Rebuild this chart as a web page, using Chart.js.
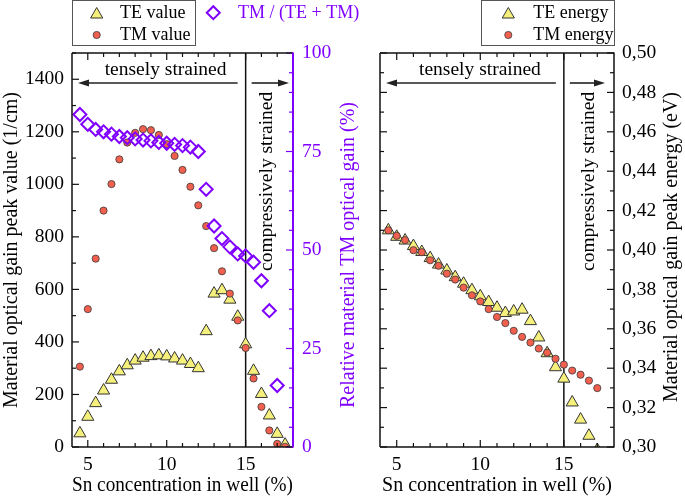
<!DOCTYPE html>
<html><head><meta charset="utf-8">
<script src="https://cdn.jsdelivr.net/npm/chart.js@4/dist/chart.umd.min.js"></script>
<style>
html,body{margin:0;padding:0;background:#fff;width:685px;height:497px;overflow:hidden}
#c1{position:absolute;left:0;top:0}
#c2{position:absolute;left:370px;top:0}
</style></head><body>
<canvas id="c1" width="370" height="497"></canvas>
<canvas id="c2" width="315" height="497"></canvas>
<script>
// ---------- data ----------
const snConc = [4.5,5,5.5,6,6.5,7,7.5,8,8.5,9,9.5,10,10.5,11,11.5,12,12.5,13,13.5,14,14.5,15,15.5,16,16.5,17,17.5];
const teValue = [52,115,167,215,256,288,311,329,340,346,349,345,337,329,316,300,441,584,597,561,496,391,290,202,120,50,9];
const tmValue = [306,525,717,900,1001,1095,1159,1196,1210,1206,1188,1153,1108,1055,991,920,841,757,669,584,482,377,261,153,63,12,1];
const tmRatio = [84.4,81.9,80.6,80.0,79.4,78.8,78.5,78.2,77.9,77.7,77.3,77.1,76.8,76.5,76.1,75.0,65.4,56.1,52.9,50.8,49.0,48.5,46.9,42.2,34.6,15.6,null];
const teEnergy = [0.4100,0.4067,0.4048,0.4020,0.3990,0.3959,0.3926,0.3896,0.3862,0.3829,0.3796,0.3765,0.3736,0.3707,0.3680,0.3688,0.3697,0.3639,0.3556,0.3476,0.3405,0.3347,0.3226,0.3139,0.3057,0.2985,null];
const tmEnergy = [0.4100,0.4072,0.4050,0.3999,0.3989,0.3948,0.3920,0.3880,0.3850,0.3809,0.3770,0.3739,0.3700,0.3660,0.3629,0.3590,0.3559,0.3530,0.3500,0.3479,0.3448,0.3418,0.3388,0.3367,0.3337,0.3299,null];

const xTicks = [5,10,15];
const gainTicks = [0,200,400,600,800,1000,1200,1400];
const pctTicks = [0,25,50,75,100];
const energyTicks = [0.30,0.32,0.34,0.36,0.38,0.40,0.42,0.44,0.46,0.48,0.50];

const boundary = 15;

// ---------- styles ----------
const FAMILY = "'Liberation Serif', 'Times New Roman', serif";
const TICKFONT = {family:FAMILY, size:19.5};
const TITLEFONT = {family:FAMILY, size:20, lineHeight:1};
const ANNOT_SIZE = 19.5, LEGEND_SIZE = 18;
const PURPLE = '#8000ff';
const YELLOW = '#f5f07c';
const RED = '#f1604e';
const triStyle = {pointStyle:'triangle', pointRadius:7, pointBackgroundColor:YELLOW, pointBorderColor:'#333', pointBorderWidth:1};
const cirStyle = {pointStyle:'circle', pointRadius:3.6, pointBackgroundColor:RED, pointBorderColor:'#3a3a3a', pointBorderWidth:0.8};
const diaStyle = {pointStyle:'rectRot', pointRadius:6.5, pointBackgroundColor:'rgba(0,0,0,0)', pointBorderColor:PURPLE, pointBorderWidth:2};

function pts(xs, ys){ const r=[]; xs.forEach((x,i)=>{ if(ys[i]!==null && ys[i]!==undefined) r.push({x, y:ys[i]}); }); return r; }
function setTicks(arr){ return s => { s.ticks = arr.map(v=>({value:v})); }; }

function drawMarker(ctx, style, x, y){
  ctx.save();
  ctx.fillStyle = style.pointBackgroundColor;
  ctx.strokeStyle = style.pointBorderColor;
  ctx.lineWidth = style.pointBorderWidth;
  const r = style.pointRadius;
  ctx.beginPath();
  if (style.pointStyle==='triangle'){
    let rad=0;
    ctx.moveTo(x+Math.sin(rad)*r, y-Math.cos(rad)*r);
    rad+=2*Math.PI/3; ctx.lineTo(x+Math.sin(rad)*r, y-Math.cos(rad)*r);
    rad+=2*Math.PI/3; ctx.lineTo(x+Math.sin(rad)*r, y-Math.cos(rad)*r);
    ctx.closePath();
  } else if (style.pointStyle==='circle'){
    ctx.arc(x,y,r,0,Math.PI*2);
  } else {
    ctx.moveTo(x-r,y); ctx.lineTo(x,y-r); ctx.lineTo(x+r,y); ctx.lineTo(x,y+r); ctx.closePath();
  }
  ctx.fill(); ctx.stroke();
  ctx.restore();
}
function line(ctx,x1,y1,x2,y2){ ctx.beginPath(); ctx.moveTo(x1,y1); ctx.lineTo(x2,y2); ctx.stroke(); }
function arrow(ctx, xFrom, xTip, y){
  ctx.save(); ctx.strokeStyle='#222'; ctx.fillStyle='#222'; ctx.lineWidth=1.6;
  const dir = xTip > xFrom ? 1 : -1;
  line(ctx, xFrom, y, xTip - dir*8, y);
  ctx.beginPath(); ctx.moveTo(xTip, y); ctx.lineTo(xTip - dir*11, y-3.5); ctx.lineTo(xTip - dir*11, y+3.5); ctx.closePath(); ctx.fill();
  ctx.restore();
}

// ---------- plugins ----------
function boundaryPlugin(){
  return { id:'boundary', beforeDatasetsDraw(chart){
    const {ctx, chartArea:a, scales:{x}} = chart;
    ctx.save(); ctx.strokeStyle='#111'; ctx.lineWidth=1.5;
    const px = x.getPixelForValue(boundary);
    line(ctx, px, a.top, px, a.bottom);
    ctx.restore();
  }};
}
function framePlugin(opt){
  return { id:'frame', afterDatasetsDraw(chart){
    const {ctx, chartArea:a, scales} = chart;
    ctx.save();
    ctx.strokeStyle='#111';
    ctx.lineWidth = 1.2;
    for (let v=5; v<=17; v++){
      const px = scales.x.getPixelForValue(v); const L = v%5===0 ? 7 : 4;
      line(ctx, px, a.bottom, px, a.bottom-L);
      line(ctx, px, a.top, px, a.top+L);
    }
    const ys = scales[opt.yKey];
    for (let i=0;; i++){
      const v = ys.min + i*opt.yMinor; if (v > ys.max + 1e-9) break;
      const py = ys.getPixelForValue(v);
      const major = Math.abs(Math.round(v/opt.yMajor)*opt.yMajor - v) < 1e-9;
      const L = major ? 7 : 4;
      if (opt.yLeftTicks) line(ctx, a.left, py, a.left+L, py);
      if (opt.yRightTicks) line(ctx, a.right, py, a.right-L, py);
    }
    if (opt.pKey){
      const ps = scales[opt.pKey];
      ctx.strokeStyle = PURPLE;
      for (let v=0; v<=100; v+=5){
        const py = ps.getPixelForValue(v); const L = v%25===0 ? 7 : 4;
        line(ctx, a.right, py, a.right-L, py);
      }
    }
    ctx.lineWidth = 1.5; ctx.strokeStyle='#111';
    line(ctx, a.left, a.top, a.right, a.top);
    line(ctx, a.left, a.bottom, a.right, a.bottom);
    line(ctx, a.left, a.top, a.left, a.bottom);
    ctx.strokeStyle = opt.rightColor;
    ctx.lineWidth = opt.rightColor===PURPLE ? 2 : 1.5;
    line(ctx, a.right, a.top-0.5, a.right, a.bottom+0.5);
    ctx.restore();
  }};
}
function annotPlugin(opt){
  return { id:'annot', afterDraw(chart){
    const {ctx, chartArea:a, scales:{x}} = chart;
    ctx.save();
    ctx.font = ANNOT_SIZE+'px '+FAMILY; ctx.fillStyle='#000';
    ctx.textAlign='center'; ctx.textBaseline='middle';
    ctx.fillText('tensely strained', x.getPixelForValue(opt.textX), a.top+17);
    const bx = x.getPixelForValue(boundary);
    arrow(ctx, bx-8, a.left+6, a.top+30);
    arrow(ctx, bx+6, a.right-opt.rightGap, a.top+30);
    ctx.save();
    ctx.translate((bx + a.right)/2 + opt.compDx, a.top+218);
    ctx.rotate(-Math.PI/2);
    ctx.textAlign='left';
    ctx.fillText('compressively strained', 0, 0);
    ctx.restore();
    // right-side title
    ctx.save();
    ctx.font = TITLEFONT.size+'px '+FAMILY;
    ctx.fillStyle = opt.titleColor;
    ctx.translate(opt.titleX, (a.top+a.bottom)/2 + opt.titleDy);
    ctx.rotate(-Math.PI/2);
    ctx.textAlign='center';
    ctx.fillText(opt.title, 0, 0);
    ctx.restore();
    // legend
    const L = opt.legend;
    ctx.font = LEGEND_SIZE+'px '+FAMILY;
    ctx.strokeStyle='#555'; ctx.lineWidth=1;
    ctx.strokeRect(L.box[0]+0.5, L.box[1]+0.5, L.box[2], L.box[3]);
    ctx.textAlign='left';
    L.items.forEach(it=>{
      drawMarker(ctx, it.style, it.mx, it.my);
      ctx.fillStyle = it.color || '#000';
      ctx.fillText(it.text, it.tx, it.ty);
    });
    ctx.restore();
  }};
}

// ---------- left chart ----------
new Chart(document.getElementById('c1'), {
  type:'scatter',
  data:{ datasets:[
    Object.assign({label:'TM / (TE + TM)', data:pts(snConc, tmRatio), yAxisID:'y1', order:0, clip:0}, diaStyle),
    Object.assign({label:'TM value', data:pts(snConc, tmValue), yAxisID:'y', order:1, clip:0}, cirStyle),
    Object.assign({label:'TE value', data:pts(snConc, teValue), yAxisID:'y', order:2, clip:0}, triStyle)
  ]},
  options:{
    responsive:false, animation:false, devicePixelRatio:1, events:[],
    layout:{padding:{top:53, left:0, right:0, bottom:0}},
    plugins:{legend:{display:false}, tooltip:{enabled:false}},
    scales:{
      x:{type:'linear', position:'bottom', min:4, max:18,
        grid:{display:false, drawTicks:false}, border:{display:false},
        afterBuildTicks:setTicks(xTicks), afterFit:s=>{s.height=50;},
        ticks:{font:TICKFONT, color:'#000', padding:6, callback:v=>String(v)},
        title:{display:true, text:'Sn concentration in well (%)', font:TITLEFONT, color:'#000', padding:{top:0,bottom:1}}},
      y:{type:'linear', position:'left', min:0, max:1500,
        grid:{display:false, drawTicks:false}, border:{display:false},
        afterBuildTicks:setTicks(gainTicks), afterFit:s=>{s.width=72;},
        ticks:{font:TICKFONT, color:'#000', padding:8, callback:v=>String(v)},
        title:{display:true, text:'Material optical gain peak value (1/cm)', font:TITLEFONT, color:'#000', padding:{top:2,bottom:0}}},
      y1:{type:'linear', position:'right', min:0, max:100,
        grid:{display:false, drawTicks:false}, border:{display:false},
        afterBuildTicks:setTicks(pctTicks), afterFit:s=>{s.width=77;},
        ticks:{font:TICKFONT, color:PURPLE, padding:9, callback:v=>String(v)}}
    }
  },
  plugins:[boundaryPlugin(), framePlugin({yKey:'y', yMinor:100, yMajor:200, yLeftTicks:true, yRightTicks:false, pKey:'y1', rightColor:PURPLE}),
    annotPlugin({textX:9.93, rightGap:4, compDx:-2, title:'Relative material TM optical gain (%)', titleColor:PURPLE, titleX:349, titleDy:5,
      legend:{box:[72,0,123,45], items:[
        {style:triStyle, mx:96.7, my:14.5, text:'TE value', tx:120, ty:13},
        {style:cirStyle, mx:96.7, my:35, text:'TM value', tx:120, ty:35},
        {style:diaStyle, mx:213.3, my:12.7, text:'TM / (TE + TM)', tx:238, ty:13, color:PURPLE}
      ]}})]
});

// ---------- right chart ----------
new Chart(document.getElementById('c2'), {
  type:'scatter',
  data:{ datasets:[
    Object.assign({label:'TM energy', data:pts(snConc, tmEnergy), yAxisID:'y', order:1, clip:0}, cirStyle),
    Object.assign({label:'TE energy', data:pts(snConc, teEnergy), yAxisID:'y', order:2, clip:0}, triStyle)
  ]},
  options:{
    responsive:false, animation:false, devicePixelRatio:1, events:[],
    layout:{padding:{top:53, left:10, right:0, bottom:0}},
    plugins:{legend:{display:false}, tooltip:{enabled:false}},
    scales:{
      x:{type:'linear', position:'bottom', min:4, max:18,
        grid:{display:false, drawTicks:false}, border:{display:false},
        afterBuildTicks:setTicks(xTicks), afterFit:s=>{s.height=50;},
        ticks:{font:TICKFONT, color:'#000', padding:6, callback:v=>String(v)},
        title:{display:true, text:'Sn concentration in well (%)', font:TITLEFONT, color:'#000', padding:{top:0,bottom:1}}},
      y:{type:'linear', position:'right', min:0.30, max:0.50,
        grid:{display:false, drawTicks:false}, border:{display:false},
        afterBuildTicks:setTicks(energyTicks), afterFit:s=>{s.width=71;},
        ticks:{font:TICKFONT, color:'#000', padding:8, callback:v=>v.toFixed(2).replace('.',',')}}
    }
  },
  plugins:[boundaryPlugin(), framePlugin({yKey:'y', yMinor:0.01, yMajor:0.02, yLeftTicks:true, yRightTicks:true, rightColor:'#111'}),
    annotPlugin({textX:9.98, rightGap:9, compDx:0, title:'Material optical gain peak energy (eV)', titleColor:'#000', titleX:302, titleDy:-3,
      legend:{box:[111,0,133,45], items:[
        {style:triStyle, mx:138.3, my:14.5, text:'TE energy', tx:163.3, ty:13},
        {style:cirStyle, mx:138.3, my:35, text:'TM energy', tx:163.3, ty:35}
      ]}})]
});
</script>
</body></html>
